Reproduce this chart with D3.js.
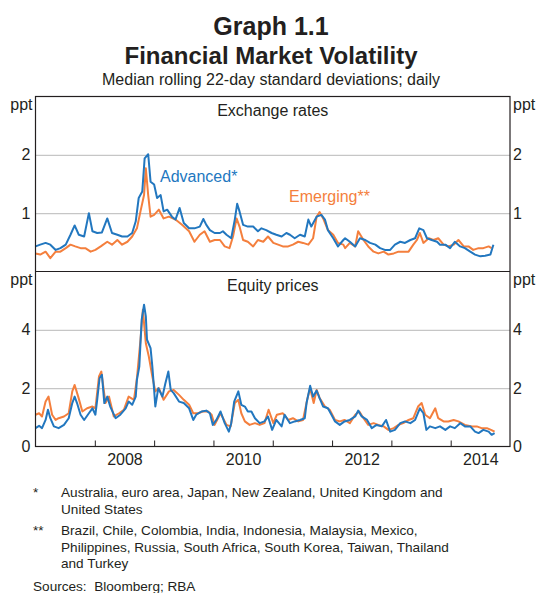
<!DOCTYPE html>
<html>
<head>
<meta charset="utf-8">
<script src="https://cdn.jsdelivr.net/npm/d3@7/dist/d3.min.js"></script>
<style>
  body { margin: 0; background: #fff; }
  svg { font-family: "Liberation Sans", Arial, sans-serif; }
</style>
</head>
<body>
<div id="chart"></div>
<script>
// [decimal year, ppt]
const fxAdvanced = [[2007.00,0.43],[2007.08,0.46],[2007.17,0.49],[2007.25,0.46],[2007.34,0.37],[2007.42,0.40],[2007.51,0.46],[2007.59,0.63],[2007.66,0.79],[2007.73,0.63],[2007.82,0.60],[2007.90,1.00],[2007.96,0.69],[2008.04,0.66],[2008.12,0.67],[2008.21,0.91],[2008.29,0.66],[2008.38,0.63],[2008.46,0.60],[2008.55,0.60],[2008.63,0.66],[2008.69,0.86],[2008.74,1.26],[2008.80,1.37],[2008.84,1.94],[2008.90,2.01],[2008.94,1.54],[2009.00,1.49],[2009.05,1.26],[2009.11,1.31],[2009.16,1.03],[2009.22,1.06],[2009.30,0.94],[2009.36,0.89],[2009.43,1.09],[2009.50,0.83],[2009.59,0.74],
  [2009.68,0.74],[2009.77,0.77],[2009.83,0.90],[2009.88,0.80],[2009.94,0.71],[2010.02,0.66],[2010.11,0.66],[2010.16,0.69],[2010.22,0.63],[2010.30,0.57],[2010.36,0.89],[2010.40,1.16],[2010.44,1.03],[2010.50,0.80],[2010.58,0.77],[2010.67,0.77],[2010.75,0.69],[2010.81,0.74],[2010.89,0.71],[2010.98,0.66],[2011.06,0.63],[2011.15,0.60],[2011.23,0.66],[2011.29,0.63],[2011.37,0.57],[2011.46,0.63],[2011.54,0.60],[2011.60,0.89],[2011.65,0.77],[2011.74,0.94],[2011.82,0.97],[2011.88,0.89],[2011.93,0.71],[2012.02,0.57],[2012.10,0.43],[2012.19,0.54],
  [2012.22,0.57],[2012.30,0.51],[2012.39,0.43],[2012.47,0.57],[2012.56,0.54],[2012.64,0.49],[2012.73,0.46],[2012.81,0.40],[2012.89,0.37],[2012.98,0.37],[2013.06,0.46],[2013.15,0.51],[2013.23,0.49],[2013.32,0.54],[2013.40,0.57],[2013.47,0.74],[2013.54,0.71],[2013.60,0.57],[2013.68,0.54],[2013.77,0.51],[2013.82,0.46],[2013.91,0.46],[2013.99,0.40],[2014.07,0.51],[2014.16,0.43],[2014.24,0.40],[2014.33,0.34],[2014.41,0.29],[2014.50,0.26],[2014.58,0.27],[2014.67,0.29],[2014.72,0.46]];

const fxEmerging = [[2007.00,0.31],[2007.08,0.29],[2007.17,0.34],[2007.25,0.23],[2007.34,0.34],[2007.42,0.34],[2007.51,0.40],[2007.59,0.46],[2007.67,0.43],[2007.76,0.40],[2007.84,0.40],[2007.93,0.34],[2008.01,0.37],[2008.10,0.43],[2008.21,0.51],[2008.29,0.46],[2008.38,0.54],[2008.46,0.46],[2008.55,0.51],[2008.63,0.60],[2008.71,0.74],[2008.77,1.03],[2008.83,1.31],[2008.86,1.77],[2008.90,1.31],[2008.94,0.94],[2009.00,0.97],[2009.08,1.06],[2009.16,0.91],[2009.25,0.94],[2009.36,0.89],[2009.47,0.80],[2009.59,0.69],
  [2009.68,0.51],[2009.77,0.63],[2009.85,0.69],[2009.94,0.51],[2010.02,0.54],[2010.11,0.54],[2010.19,0.43],[2010.27,0.40],[2010.33,0.60],[2010.39,0.91],[2010.44,0.77],[2010.50,0.54],[2010.58,0.51],[2010.67,0.43],[2010.75,0.54],[2010.84,0.51],[2010.92,0.60],[2011.01,0.49],[2011.09,0.46],[2011.17,0.43],[2011.26,0.43],[2011.34,0.46],[2011.43,0.51],[2011.51,0.49],[2011.60,0.46],[2011.68,0.57],[2011.74,0.94],[2011.79,1.02],[2011.85,0.91],[2011.93,0.71],[2012.02,0.63],[2012.10,0.49],[2012.19,0.46],
  [2012.22,0.40],[2012.30,0.49],[2012.39,0.43],[2012.44,0.69],[2012.53,0.54],[2012.61,0.43],[2012.70,0.34],[2012.78,0.31],[2012.87,0.34],[2012.95,0.29],[2013.04,0.31],[2013.12,0.34],[2013.20,0.34],[2013.29,0.34],[2013.37,0.46],[2013.43,0.54],[2013.48,0.66],[2013.54,0.49],[2013.63,0.57],[2013.71,0.54],[2013.79,0.57],[2013.88,0.46],[2013.96,0.43],[2014.05,0.46],[2014.13,0.54],[2014.22,0.43],[2014.30,0.43],[2014.38,0.37],[2014.47,0.40],[2014.55,0.40],[2014.64,0.43],[2014.69,0.40]];

const eqAdvanced = [[2007.00,0.63],[2007.06,0.71],[2007.11,0.63],[2007.17,0.91],[2007.21,1.26],[2007.25,0.97],[2007.31,0.69],[2007.39,0.63],[2007.48,0.74],[2007.56,0.97],[2007.62,1.49],[2007.66,1.71],[2007.70,1.49],[2007.76,1.09],[2007.82,0.91],[2007.90,1.14],[2007.96,1.31],[2008.01,1.09],[2008.04,1.60],[2008.08,2.34],[2008.12,2.46],[2008.16,1.49],[2008.21,1.71],[2008.26,1.37],[2008.35,0.97],[2008.43,1.09],[2008.52,1.31],[2008.57,1.54],[2008.63,1.43],[2008.69,1.71],[2008.71,2.29],[2008.75,2.74],[2008.79,4.34],[2008.83,4.86],[2008.86,4.46],[2008.88,3.66],[2008.94,3.37],[2008.97,2.74],[2009.00,1.94],[2009.02,1.37],[2009.07,2.00],[2009.14,1.71],[2009.19,2.17],[2009.24,2.57],[2009.28,1.94],[2009.33,1.83],[2009.42,1.54],[2009.50,1.49],[2009.59,1.31],
  [2009.66,0.91],[2009.71,1.09],[2009.80,1.20],[2009.88,1.23],[2009.94,1.14],[2009.99,0.74],[2010.05,0.91],[2010.12,1.20],[2010.19,0.80],[2010.26,0.51],[2010.30,0.80],[2010.35,1.54],[2010.42,1.89],[2010.47,1.43],[2010.53,1.37],[2010.58,1.20],[2010.64,1.20],[2010.70,0.97],[2010.78,0.80],[2010.86,0.86],[2010.92,1.03],[2010.99,0.57],[2011.06,0.91],[2011.15,0.69],[2011.20,1.09],[2011.29,0.80],[2011.37,0.86],[2011.46,0.91],[2011.54,0.97],[2011.57,1.49],[2011.63,2.08],[2011.68,1.71],[2011.74,1.92],[2011.79,1.66],[2011.85,1.37],[2011.93,1.31],[2011.99,1.09],[2012.05,0.86],[2012.13,0.74],[2012.21,0.86],
  [2012.30,0.91],[2012.39,1.03],[2012.44,1.23],[2012.50,1.03],[2012.59,0.91],[2012.67,0.63],[2012.75,0.74],[2012.84,0.69],[2012.91,0.91],[2012.98,0.51],[2013.06,0.57],[2013.15,0.80],[2013.23,0.86],[2013.32,0.80],[2013.40,0.91],[2013.48,1.31],[2013.54,1.14],[2013.59,0.57],[2013.65,0.69],[2013.74,0.63],[2013.82,0.69],[2013.91,0.57],[2013.99,0.69],[2014.07,0.63],[2014.16,0.80],[2014.24,0.69],[2014.33,0.69],[2014.41,0.51],[2014.47,0.46],[2014.55,0.57],[2014.64,0.51],[2014.69,0.40],[2014.74,0.46]];

const eqEmerging = [[2007.00,1.09],[2007.06,1.14],[2007.11,1.03],[2007.17,1.54],[2007.22,1.71],[2007.28,1.09],[2007.34,0.91],[2007.39,0.97],[2007.48,1.03],[2007.56,1.14],[2007.62,1.89],[2007.66,2.11],[2007.72,1.71],[2007.79,1.20],[2007.87,1.31],[2007.96,1.37],[2008.01,1.31],[2008.07,2.40],[2008.11,2.57],[2008.18,1.49],[2008.24,1.71],[2008.32,1.03],[2008.41,1.14],[2008.49,1.26],[2008.57,1.71],[2008.66,1.60],[2008.71,2.34],[2008.77,3.66],[2008.81,4.69],[2008.86,3.54],[2008.91,3.09],[2008.97,2.40],[2009.02,1.89],[2009.08,2.00],[2009.16,1.60],[2009.25,1.89],[2009.33,1.94],[2009.42,1.77],[2009.50,1.60],[2009.59,1.43],
  [2009.66,1.14],[2009.74,1.14],[2009.82,1.20],[2009.91,1.20],[2009.97,1.09],[2010.02,0.74],[2010.12,1.14],[2010.22,0.74],[2010.29,0.69],[2010.36,1.49],[2010.42,1.60],[2010.47,1.14],[2010.53,0.86],[2010.61,0.74],[2010.70,0.80],[2010.78,0.74],[2010.86,0.80],[2010.93,1.26],[2011.01,0.80],[2011.07,1.09],[2011.17,1.14],[2011.26,0.91],[2011.34,0.97],[2011.43,0.86],[2011.51,0.91],[2011.58,1.60],[2011.63,2.00],[2011.69,1.49],[2011.74,1.94],[2011.79,1.66],[2011.88,1.37],[2011.96,1.26],[2012.05,0.91],[2012.13,0.86],[2012.21,0.91],
  [2012.30,0.80],[2012.39,1.09],[2012.46,1.20],[2012.53,0.97],[2012.61,0.74],[2012.70,0.80],[2012.78,0.74],[2012.87,0.69],[2012.95,0.57],[2013.04,0.63],[2013.12,0.74],[2013.20,0.80],[2013.29,0.91],[2013.37,0.97],[2013.45,1.37],[2013.51,1.49],[2013.57,1.09],[2013.65,0.97],[2013.74,1.31],[2013.79,0.97],[2013.88,0.86],[2013.96,0.86],[2014.05,0.91],[2014.13,0.86],[2014.24,0.74],[2014.36,0.69],[2014.44,0.69],[2014.52,0.63],[2014.61,0.63],[2014.68,0.57],[2014.74,0.51]];

const yearTicks = [2008, 2009, 2010, 2011, 2012, 2013, 2014];
const yearLabels = [2008, 2010, 2012, 2014];
const fxTicks = [1, 2];
const eqTicks = [0, 2, 4];

const notes = [
  ["*", ["Australia, euro area, Japan, New Zealand, United Kingdom and", "United States"]],
  ["**", ["Brazil, Chile, Colombia, India, Indonesia, Malaysia, Mexico,", "Philippines, Russia, South Africa, South Korea, Taiwan, Thailand", "and Turkey"]]
];

const width = 541, height = 593;
const plotLeft = 35.5, plotRight = 510, plotTop = 96.5, plotMid = 271.5, plotBottom = 446.5;
const blue = "#2277bf", orange = "#f47f3d";

const svg = d3.select("#chart").append("svg")
  .attr("width", width).attr("height", height);

const x = d3.scaleLinear().domain([2007, 2015]).range([plotLeft, plotRight]);
const yFx = d3.scaleLinear().domain([0, 3]).range([plotMid, plotTop]);
const yEq = d3.scaleLinear().domain([0, 6]).range([plotBottom, plotMid]);

// titles
svg.append("text").attr("x", 271).attr("y", 35).attr("text-anchor", "middle")
  .attr("font-size", 25).attr("font-weight", "bold").attr("fill", "#231f20").text("Graph 1.1");
svg.append("text").attr("x", 271).attr("y", 64).attr("text-anchor", "middle")
  .attr("font-size", 24).attr("font-weight", "bold").attr("fill", "#231f20").text("Financial Market Volatility");
svg.append("text").attr("x", 271).attr("y", 85).attr("text-anchor", "middle")
  .attr("font-size", 16).attr("fill", "#231f20").text("Median rolling 22-day standard deviations; daily");

function panel(y, ticks, title, titleY) {
  const g = svg.append("g");
  // gridlines
  g.append("g")
    .attr("transform", `translate(${plotLeft},0)`)
    .call(d3.axisLeft(y).tickValues(ticks.filter(d => d > 0)).tickSize(-(plotRight - plotLeft)).tickFormat(""))
    .call(a => a.select(".domain").remove())
    .call(a => a.selectAll("line").attr("stroke", "#c6c6c6").attr("stroke-width", 1.2));
  // labels left and right
  g.append("g")
    .attr("transform", `translate(${plotLeft - 5},0)`)
    .call(d3.axisLeft(y).tickValues(ticks).tickSize(0).tickPadding(0).tickFormat(d3.format("d")))
    .call(a => a.select(".domain").remove())
    .call(a => a.selectAll("text").attr("font-size", 16).attr("fill", "#231f20").attr("font-family", null));
  g.append("g")
    .attr("transform", `translate(${plotRight + 3},0)`)
    .call(d3.axisRight(y).tickValues(ticks).tickSize(0).tickPadding(0).tickFormat(d3.format("d")))
    .call(a => a.select(".domain").remove())
    .call(a => a.selectAll("text").attr("font-size", 16).attr("fill", "#231f20").attr("font-family", null));
  const yTop = y.range()[1];
  g.append("text").attr("x", plotLeft - 3).attr("y", yTop + 13).attr("text-anchor", "end")
    .attr("font-size", 16).attr("fill", "#231f20").text("ppt");
  g.append("text").attr("x", plotRight + 3).attr("y", yTop + 13)
    .attr("font-size", 16).attr("fill", "#231f20").text("ppt");
  g.append("text").attr("x", (plotLeft + plotRight) / 2).attr("y", titleY).attr("text-anchor", "middle")
    .attr("font-size", 16).attr("fill", "#231f20").text(title);
  return g;
}

panel(yFx, fxTicks, "Exchange rates", 116);
panel(yEq, eqTicks, "Equity prices", 291);

function drawLine(data, y, color) {
  const line = d3.line().x(d => x(d[0])).y(d => y(d[1]));
  svg.append("path").datum(data)
    .attr("fill", "none").attr("stroke", color).attr("stroke-width", 2)
    .attr("stroke-linejoin", "round").attr("d", line);
}

drawLine(fxEmerging, yFx, orange);
drawLine(fxAdvanced, yFx, blue);
drawLine(eqEmerging, yEq, orange);
drawLine(eqAdvanced, yEq, blue);

svg.append("text").attr("x", 160).attr("y", 182).attr("font-size", 16).attr("fill", blue).text("Advanced*");
svg.append("text").attr("x", 289).attr("y", 202).attr("font-size", 16).attr("fill", orange).text("Emerging**");

// x axis
svg.append("g")
  .attr("transform", `translate(0,${plotBottom})`)
  .call(d3.axisBottom(x).tickValues(yearTicks).tickSizeInner(-6).tickSizeOuter(0).tickFormat(""))
  .call(a => a.select(".domain").remove())
  .call(a => a.selectAll("line").attr("stroke", "#231f20"));
svg.append("g")
  .attr("transform", `translate(0,${plotBottom + 7})`)
  .call(d3.axisBottom(x).tickValues(yearLabels.map(d => d + 0.5)).tickSize(0).tickPadding(0).tickFormat(d => Math.floor(d)))
  .call(a => a.select(".domain").remove())
  .call(a => a.selectAll("text").attr("font-size", 16).attr("fill", "#231f20").attr("font-family", null));

// frame
svg.append("rect").attr("x", plotLeft).attr("y", plotTop).attr("width", plotRight - plotLeft).attr("height", plotBottom - plotTop)
  .attr("fill", "none").attr("stroke", "#231f20").attr("stroke-width", 1.2);
svg.append("line").attr("x1", plotLeft).attr("x2", plotRight).attr("y1", plotMid).attr("y2", plotMid)
  .attr("stroke", "#231f20").attr("stroke-width", 1.2);

// footnotes
let fy = 497;
notes.forEach(([mark, lines]) => {
  svg.append("text").attr("x", 33).attr("y", fy).attr("font-size", 13.6).attr("fill", "#231f20").text(mark);
  lines.forEach((t, j) => {
    svg.append("text").attr("x", 61).attr("y", fy + j * 16.5).attr("font-size", 13.6).attr("fill", "#231f20").text(t);
  });
  fy += lines.length * 16.5 + 5;
});
svg.append("text").attr("x", 33).attr("y", 591).attr("font-size", 13.6).attr("fill", "#231f20")
  .attr("xml:space", "preserve").text("Sources:  Bloomberg; RBA");
</script>
</body>
</html>
